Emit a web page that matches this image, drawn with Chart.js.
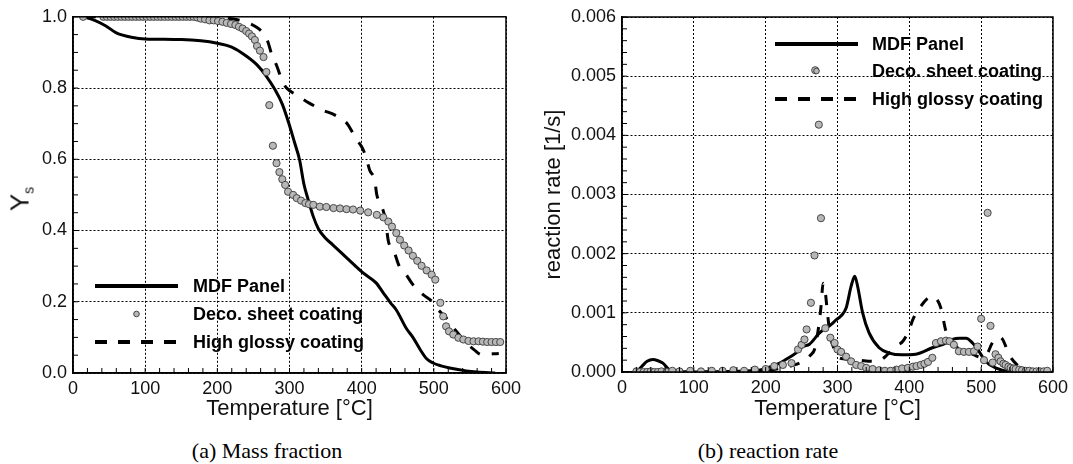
<!DOCTYPE html>
<html>
<head>
<meta charset="utf-8">
<script src="https://cdn.jsdelivr.net/npm/chart.js@4.4.0/dist/chart.umd.min.js"></script>
<style>
  body { margin: 0; background: #fff; width: 1073px; height: 464px; position: relative; overflow: hidden; font-family: "Liberation Sans", Arial, sans-serif; }
  .box { position: absolute; top: 0; height: 430px; }
  #boxA { left: 0; width: 530px; }
  #boxB { left: 530px; width: 543px; }
  .caption { position: absolute; top: 438px; line-height: 24px; font: 22px "Liberation Serif", "Times New Roman", serif; transform: translateX(-50%); white-space: nowrap; color: #000; }
  .ytitle { position: absolute; font-size: 26px; line-height: 28px; color: #111; transform: translate(-50%, -50%) rotate(-90deg); white-space: nowrap; }
  .ytitle sub { font-size: 14px; vertical-align: -5px; }
</style>
</head>
<body>
<div class="box" id="boxA"><canvas id="chartA"></canvas></div>
<div class="box" id="boxB"><canvas id="chartB"></canvas></div>
<div class="ytitle" style="left:24px; top:199px;">Y<sub>s</sub></div>
<div class="caption" style="left:267px;">(a) Mass fraction</div>
<div class="caption" style="left:768px;">(b) reaction rate</div>

<script>
const tempTicks = [0, 100, 200, 300, 400, 500, 600];
const massTicks = [0, 0.2, 0.4, 0.6, 0.8, 1.0];
const rateTicks = [0, 0.001, 0.002, 0.003, 0.004, 0.005, 0.006];
const seriesNames = ['MDF Panel', 'Deco. sheet coating', 'High glossy coating'];

// (a) mass fraction Ys
const mdfMassT = [14, 30, 45, 60, 83, 100, 150, 200, 220, 240, 255, 268, 280, 290, 300, 307, 314, 320, 326, 333,
  340, 350, 360, 380, 402, 420, 430, 440, 448, 462, 471, 481, 490, 499, 510, 522, 545, 560, 585];
const mdfMassY = [1.0, 0.99, 0.975, 0.955, 0.942, 0.938, 0.936, 0.926, 0.915, 0.89, 0.865, 0.833, 0.795, 0.755, 0.695, 0.647, 0.598, 0.53, 0.486, 0.439,
  0.405, 0.378, 0.36, 0.322, 0.281, 0.253, 0.225, 0.197, 0.177, 0.125, 0.1, 0.066, 0.04, 0.028, 0.02, 0.014, 0.006, 0.003, 0.0];

const decoMassT = [14, 42, 47, 52, 57, 62, 67, 72, 77, 82, 87, 92, 97, 102, 107, 112, 117, 122, 127, 132, 137, 142, 147, 152, 157, 162, 167,
  172, 177, 183, 189, 195, 201, 207, 213, 219, 225, 230, 235, 240, 244, 248, 252, 255, 259, 264, 268,
  272, 277, 282, 286, 290, 294, 298, 305, 310, 316, 322, 327, 333, 342, 351, 361, 370, 379, 388, 398,
  409, 421, 430, 437, 442, 448, 453, 459, 465, 471, 477, 483, 490, 497, 502, 509, 513, 517, 521, 527,
  534, 541, 548, 555, 562, 568, 574, 580, 586, 592];
const decoMassY = [1.0, 1.0, 1.0, 1.0, 1.0, 1.0, 1.0, 1.0, 1.0, 1.0, 1.0, 1.0, 1.0, 1.0, 1.0, 1.0, 1.0, 1.0, 1.0, 1.0, 1.0, 1.0, 1.0, 1.0, 1.0, 1.0, 1.0,
  0.998, 0.995, 0.993, 0.99, 0.99, 0.988, 0.986, 0.983, 0.98, 0.977, 0.972, 0.967, 0.96, 0.953, 0.945, 0.935, 0.918, 0.905, 0.887, 0.845,
  0.752, 0.638, 0.589, 0.564, 0.544, 0.528, 0.509, 0.5, 0.491, 0.484, 0.477, 0.474, 0.472, 0.467, 0.466, 0.463, 0.462, 0.46, 0.459, 0.456,
  0.451, 0.444, 0.437, 0.425, 0.411, 0.393, 0.374, 0.358, 0.344, 0.329, 0.315, 0.301, 0.288, 0.276, 0.262, 0.197, 0.159, 0.131, 0.117, 0.108,
  0.099, 0.094, 0.09, 0.089, 0.089, 0.088, 0.087, 0.087, 0.087, 0.087];

const glossMassT = [15, 100, 200, 240, 255, 263, 270, 276, 282, 290, 296, 310, 328, 346, 363, 380, 388, 395, 400, 406,
  411, 418, 421, 427, 433, 437, 444, 452, 460, 471, 485, 498, 505, 517, 530, 545, 556, 566, 590];
const glossMassY = [1.0, 1.0, 0.998, 0.985, 0.97, 0.955, 0.93, 0.89, 0.864, 0.82, 0.8, 0.78, 0.757, 0.738, 0.724, 0.7, 0.673, 0.65, 0.635, 0.607,
  0.57, 0.542, 0.5, 0.472, 0.43, 0.37, 0.346, 0.3, 0.281, 0.248, 0.22, 0.2, 0.18, 0.155, 0.12, 0.085, 0.065, 0.052, 0.055];

// (b) reaction rate [1/s]
const mdfRateT = [20, 28, 35, 43, 50, 57, 63, 68, 80, 100, 150, 190, 205, 218, 228, 242, 252, 261, 275, 291,
  298, 305, 312, 319, 324, 328, 335, 344, 358, 372, 390, 409, 432, 451, 460, 470, 479, 488, 497, 506, 520, 539, 560, 590];
const mdfRateY = [0, 0.0001, 0.00018, 0.00021, 0.00019, 0.00015, 0.00007, 0.00001, 0, 0, 0.00001, 0.00003, 0.00008, 0.00014, 0.00021, 0.00032, 0.00043, 0.00047, 0.00066, 0.0008,
  0.00088, 0.00095, 0.00108, 0.00145, 0.00162, 0.00145, 0.001, 0.00066, 0.00041, 0.00032, 0.00029, 0.0003, 0.00041, 0.00049, 0.00055, 0.00057, 0.00057, 0.00049, 0.00035, 0.00018, 0.00007, 0.00001, 0, 0];

const decoRateT = [20, 25, 30, 35, 40, 45, 50, 55, 62, 70, 80, 95, 110, 125, 140, 155, 170, 185, 200, 212,
  224, 236, 245, 250, 254, 257, 263, 268, 269, 274, 277, 283, 290, 296, 300, 305, 312, 319, 326, 333,
  340, 349, 358, 366, 374, 382, 390, 398, 405, 410, 416, 421, 426, 432, 437, 444, 451, 456, 462, 469,
  476, 483, 490, 495, 500, 504, 509, 513, 516, 520, 524, 527, 531, 534, 538, 541, 545, 548, 553, 557,
  562, 567, 572, 577, 582, 587, 592];
const decoRateY = [0.00001, 0, 0, 0, 0.00001, 0, 0, 0.00001, 0, 0.00002, 0.00001, 0.00002, 0.00001, 0.00002, 0.00002, 0.00003, 0.00002, 0.00004, 0.00005, 0.0001,
  0.00012, 0.00015, 0.00038, 0.00046, 0.00055, 0.00072, 0.00117, 0.00197, 0.0051, 0.00418, 0.0026, 0.00074, 0.00058, 0.00049, 0.00038, 0.00034, 0.00026, 0.00018, 0.00012, 0.0001,
  0.00007, 0.00005, 0.00003, 0.00002, 0.00002, 0.00004, 0.00006, 0.00007, 0.00009, 0.0001, 0.00012, 0.00014, 0.00017, 0.00024, 0.00049, 0.00052, 0.00053, 0.00052, 0.00046, 0.00035,
  0.00034, 0.00034, 0.00035, 0.00043, 0.0009, 0.0002, 0.00269, 0.00078, 0.00016, 0.0003, 0.00024, 0.00018, 0.00014, 0.00012, 0.00009, 0.00007, 0.00006, 0.00005, 0.00004, 0.00003,
  0.00002, 0.00002, 0.00001, 0.00001, 0.00001, 0.00001, 0.00002];

const glossRateT = [20, 40, 80, 120, 160, 200, 220, 240, 256, 262, 268, 273, 277, 280, 283, 286, 290, 295, 300, 310,
  330, 350, 360, 370, 381, 391, 400, 405, 416, 426, 432, 437, 444, 451, 460, 470, 485, 500, 508, 515,
  520, 525, 530, 539, 550, 560, 575, 590];
const glossRateY = [0, 0.00001, 0, 0, 0.00001, 0.00003, 0.00006, 0.00012, 0.00021, 0.00028, 0.00038, 0.0007, 0.0011, 0.0015, 0.00135, 0.001, 0.0006, 0.0004, 0.00026, 0.00022,
  0.0002, 0.00018, 0.0002, 0.0003, 0.00043, 0.00052, 0.00072, 0.00089, 0.00111, 0.00125, 0.00128, 0.00125, 0.00108, 0.00069, 0.0005, 0.00038, 0.00032, 0.00025, 0.0003, 0.00048,
  0.00056, 0.00059, 0.00055, 0.00029, 0.00012, 0.00004, 0.00001, 0];

const FONT = '"Liberation Sans", Arial, sans-serif';

function pts(xs, ys) {
    return xs.map((x, i) => ({ x: x, y: ys[i] }));
}

// box frame, inward minor ticks and the in-plot legend
const framePlugin = {
    id: 'frame',
    afterDraw(chart, args, opts) {
        const { ctx, chartArea: a, scales } = chart;
        ctx.save();
        ctx.strokeStyle = '#000';
        ctx.lineWidth = 1;
        ctx.setLineDash([]);
        ctx.beginPath();
        for (let i = 0; i <= opts.xMinorCount; i++) {
            const px = scales.x.getPixelForValue(600 * i / opts.xMinorCount);
            ctx.moveTo(px, a.bottom);
            ctx.lineTo(px, a.bottom - 5);
        }
        for (let i = 0; i <= opts.yMinorCount; i++) {
            const py = scales.y.getPixelForValue(opts.yMax * i / opts.yMinorCount);
            ctx.moveTo(a.left, py);
            ctx.lineTo(a.left + 5, py);
        }
        ctx.stroke();

        ctx.lineWidth = 1.5;
        ctx.strokeRect(a.left, a.top, a.right - a.left, a.bottom - a.top);

        const L = opts.legend;
        ctx.fillStyle = '#000';
        ctx.font = 'bold 18px ' + FONT;
        ctx.textBaseline = 'middle';
        ctx.textAlign = 'left';

        ctx.lineWidth = 4;
        ctx.beginPath();
        ctx.moveTo(L.x1, L.rows[0]);
        ctx.lineTo(L.x2, L.rows[0]);
        ctx.stroke();

        ctx.lineWidth = 1;
        ctx.fillStyle = '#b8b8b8';
        ctx.strokeStyle = '#444';
        ctx.beginPath();
        ctx.arc((L.x1 + L.x2) / 2, L.rows[1], 2.8, 0, Math.PI * 2);
        ctx.fill();
        ctx.stroke();

        ctx.strokeStyle = '#000';
        ctx.lineWidth = 4;
        ctx.setLineDash([12, 11]);
        ctx.beginPath();
        ctx.moveTo(L.x1, L.rows[2]);
        ctx.lineTo(L.x2 + 1, L.rows[2]);
        ctx.stroke();
        ctx.setLineDash([]);

        ctx.fillStyle = '#000';
        seriesNames.forEach((name, i) => ctx.fillText(name, L.tx, L.rows[i] + 1));
        ctx.restore();
    }
};

function buildDatasets(mdf, deco, gloss, dash) {
    return [
        {
            label: seriesNames[1], data: deco, showLine: false, order: 0,
            pointRadius: 3.6, pointBackgroundColor: '#b8b8b8', pointBorderColor: '#474747', pointBorderWidth: 1
        },
        {
            label: seriesNames[0], data: mdf, showLine: true, order: 1, pointRadius: 0,
            borderColor: '#000', borderWidth: 3, cubicInterpolationMode: 'monotone'
        },
        {
            label: seriesNames[2], data: gloss, showLine: true, order: 2, pointRadius: 0,
            borderColor: '#000', borderWidth: 3, borderDash: dash, cubicInterpolationMode: 'monotone'
        }
    ];
}

function makeChart(id, o) {
    return new Chart(document.getElementById(id), {
        type: 'scatter',
        data: { datasets: buildDatasets(o.mdf, o.deco, o.gloss, o.dash) },
        options: {
            responsive: true,
            maintainAspectRatio: false,
            animation: false,
            layout: { padding: o.padding },
            scales: {
                x: {
                    type: 'linear', min: 0, max: 600,
                    afterBuildTicks: s => { s.ticks = tempTicks.map(v => ({ value: v })); },
                    afterFit: s => { s.height = o.xHeight; },
                    grid: { color: '#000', lineWidth: 1, drawTicks: false },
                    border: { color: '#000', width: 1.5, dash: [2, 2] },
                    ticks: { padding: 5, color: '#111', maxRotation: 0, autoSkip: false, font: { size: 18, family: FONT } },
                    title: { display: true, text: 'Temperature [°C]', color: '#111', font: { size: 22, family: FONT }, padding: { top: 0, bottom: 8 } }
                },
                y: {
                    type: 'linear', min: 0, max: o.yMax,
                    afterBuildTicks: s => { s.ticks = o.yTicks.map(v => ({ value: v })); },
                    afterFit: s => { s.width = o.yWidth; },
                    grid: { color: '#000', lineWidth: 1, drawTicks: false },
                    border: { color: '#000', width: 1.5, dash: [2, 2] },
                    ticks: { padding: 6, color: '#111', autoSkip: false, font: { size: 18, family: FONT }, callback: v => v.toFixed(o.digits) },
                    title: o.yTitle
                        ? { display: true, text: o.yTitle, color: '#111', font: { size: 22, family: FONT }, padding: { top: 11, bottom: 0 } }
                        : { display: false }
                }
            },
            plugins: {
                legend: { display: false },
                tooltip: { enabled: false },
                frame: o.frame
            }
        },
        plugins: [framePlugin]
    });
}

makeChart('chartA', {
    mdf: pts(mdfMassT, mdfMassY), deco: pts(decoMassT, decoMassY), gloss: pts(glossMassT, glossMassY),
    dash: [12, 12], yMax: 1.0, yTicks: massTicks, digits: 1,
    padding: { top: 16, right: 24, left: 0, bottom: 0 }, xHeight: 57, yWidth: 73,
    frame: { xMinorCount: 30, yMinorCount: 20, yMax: 1.0, legend: { x1: 95, x2: 178, tx: 193, rows: [286, 314, 342] } }
});

makeChart('chartB', {
    mdf: pts(mdfRateT, mdfRateY), deco: pts(decoRateT, decoRateY), gloss: pts(glossRateT, glossRateY),
    dash: [10, 12], yMax: 0.006, yTicks: rateTicks, digits: 3, yTitle: 'reaction rate [1/s]',
    padding: { top: 17, right: 19, left: 0, bottom: 0 }, xHeight: 58, yWidth: 92,
    frame: { xMinorCount: 30, yMinorCount: 30, yMax: 0.006, legend: { x1: 245, x2: 328, tx: 342, rows: [44, 71, 99] } }
});
</script>
</body>
</html>
